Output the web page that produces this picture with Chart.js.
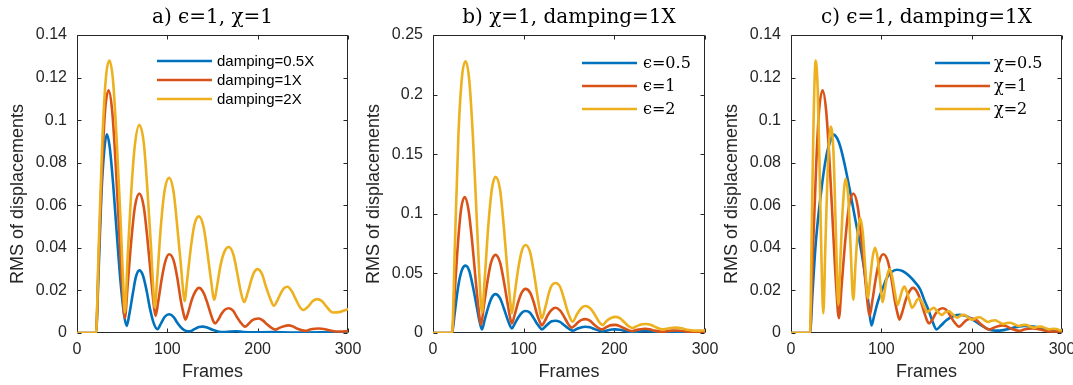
<!DOCTYPE html>
<html><head><meta charset="utf-8">
<script src="https://cdn.jsdelivr.net/npm/chart.js@4.4.1/dist/chart.umd.min.js"></script>
<style>
html,body{margin:0;padding:0;background:#fff;}
#wrap{position:relative;width:1073px;height:385px;overflow:hidden;background:#fff;}
canvas{position:absolute;top:0;}
</style></head><body>
<div id="wrap">
<canvas id="ca" width="380" height="385" style="left:0px;width:380px;height:385px"></canvas>
<canvas id="cb" width="380" height="385" style="left:356px;width:380px;height:385px"></canvas>
<canvas id="cc" width="359" height="385" style="left:714px;width:359px;height:385px"></canvas>
</div>
<script>
// ---------- tick values / labels ----------
const xTicks = [0, 100, 200, 300];
const xTickLabels = ['0', '100', '200', '300'];
const yTicksAC = [0, 0.02, 0.04, 0.06, 0.08, 0.1, 0.12, 0.14];
const yTickLabelsAC = ['0', '0.02', '0.04', '0.06', '0.08', '0.1', '0.12', '0.14'];
const yTicksB = [0, 0.05, 0.1, 0.15, 0.2, 0.25];
const yTickLabelsB = ['0', '0.05', '0.1', '0.15', '0.2', '0.25'];

// ---------- series: epsilon=1, chi=1, damping=1X (shared by all panels) ----------
const redF = [0,21,24,28,31,35,39,43,47,50,53,56,60,64,69,74,78,82,85,87,90,94,98,102,107,111,115,118,120,123,127,131,135,140,144,148,151,153,156,160,164,168,173,177,181,186,190,194,197,201,206,210,215,220,224,229,234,239,244,253,258,263,268,273,278,287,293,300];
const redV = [0,0,0.035,0.08,0.104,0.114,0.104,0.078,0.045,0.022,0.007,0.022,0.043,0.059,0.0655,0.059,0.044,0.026,0.013,0.008,0.015,0.026,0.034,0.037,0.034,0.026,0.015,0.009,0.0063,0.0095,0.0155,0.0195,0.0212,0.019,0.0145,0.009,0.0055,0.0045,0.006,0.009,0.011,0.0116,0.0104,0.0075,0.005,0.003,0.0043,0.006,0.0066,0.0068,0.0058,0.0042,0.0025,0.0016,0.0024,0.0032,0.0036,0.0031,0.002,0.001,0.0016,0.002,0.0021,0.0019,0.0014,0.0007,0.0007,0.0008];

// ---------- panel a: damping=0.5X ----------
const blueAF = [0,21,24,27,30,33,36,40,44,48,52,55,58,62,65,69,73,77,81,85,89,93,97,102,107,111,116,121,125,130,135,139,144,150,156,162,170,176,184,195,215,240,270,300];
const blueAV = [0,0,0.03,0.065,0.085,0.0934,0.088,0.07,0.047,0.025,0.009,0.0033,0.009,0.019,0.026,0.0294,0.027,0.02,0.011,0.0045,0.0018,0.0045,0.0075,0.0088,0.0075,0.0048,0.0022,0.0009,0.0008,0.0018,0.0028,0.003,0.0026,0.0015,0.0007,0.0004,0.0007,0.0008,0.0005,0.0003,0.0004,0.0002,0.0003,0.0002];
// ---------- panel a: damping=2X ----------
const yelAF = [0,21,24,28,32,36,40,44,48,51,53,56,60,64,69,74,78,82,84,86,89,93,97,102,107,111,115,117,119,122,126,130,135,140,144,148,152,155,159,163,168,173,177,181,185,189,193,196,200,205,209,214,218,222,226,229,233,238,242,247,251,256,261,266,271,276,280,284,290,295,300];
const yelAV = [0,0,0.04,0.09,0.12,0.128,0.118,0.09,0.055,0.025,0.0095,0.035,0.066,0.088,0.0977,0.089,0.067,0.04,0.024,0.012,0.027,0.051,0.067,0.0729,0.066,0.05,0.032,0.022,0.015,0.025,0.04,0.051,0.0548,0.05,0.039,0.026,0.0156,0.022,0.032,0.038,0.0404,0.037,0.029,0.02,0.0145,0.019,0.025,0.0285,0.03,0.0275,0.022,0.016,0.0128,0.0155,0.019,0.021,0.0217,0.0195,0.016,0.012,0.0108,0.0125,0.015,0.0159,0.015,0.0125,0.0105,0.0096,0.0098,0.0105,0.0112];

// ---------- panel b: epsilon=0.5 ----------
const blueBF = [0,21,24,28,32,36,40,44,48,51,54,57,61,65,69,74,78,82,85,87,90,94,98,102,107,111,115,118,120,124,128,131,135,140,144,149,154,159,164,168,173,178,187,193,197,201,206,212,220,227,235,243,253,260,268,276,287,300];
const blueBV = [0,0,0.017,0.04,0.053,0.0565,0.052,0.039,0.023,0.011,0.003,0.011,0.022,0.03,0.0326,0.029,0.021,0.012,0.006,0.0038,0.0075,0.013,0.017,0.0185,0.017,0.0125,0.0075,0.0045,0.003,0.0055,0.0083,0.0098,0.0103,0.0093,0.007,0.004,0.002,0.0035,0.0049,0.0053,0.0048,0.0034,0.0013,0.0023,0.0029,0.003,0.0027,0.0018,0.0008,0.0013,0.0017,0.0012,0.0005,0.0008,0.001,0.0008,0.0004,0.0004];
// ---------- panel b: epsilon=2 ----------
const yelBF = [0,21,24,28,32,36,40,44,48,51,54,57,61,65,69,74,78,82,85,87,90,94,98,102,107,111,115,118,120,124,128,131,135,140,144,149,154,159,164,168,173,178,183,187,192,197,201,206,211,216,220,226,231,235,240,246,253,259,264,268,274,280,287,293,300];
const yelBV = [0,0,0.07,0.165,0.215,0.228,0.212,0.165,0.1,0.05,0.017,0.045,0.09,0.121,0.131,0.12,0.09,0.053,0.028,0.0165,0.032,0.054,0.069,0.0738,0.068,0.052,0.032,0.018,0.0123,0.022,0.034,0.04,0.042,0.039,0.03,0.017,0.0095,0.016,0.0212,0.0226,0.021,0.016,0.0095,0.0067,0.0105,0.0128,0.0135,0.0125,0.009,0.0055,0.0042,0.0062,0.0073,0.0076,0.007,0.0048,0.003,0.0038,0.0044,0.0045,0.004,0.0028,0.002,0.002,0.0022];

// ---------- panel c: chi=0.5 ----------
const blueCF = [0,21,24,27,30,33,36,40,43,47,51,55,60,65,70,74,78,82,86,89,92,95,98,102,106,111,117,124,131,137,143,148,152,157,161,166,172,180,187,195,203,210,217,224,231,238,245,252,258,266,274,282,290,300];
const blueCV = [0,0,0.02,0.04,0.054,0.065,0.075,0.085,0.0895,0.0932,0.0915,0.087,0.078,0.0674,0.056,0.047,0.038,0.027,0.013,0.0035,0.008,0.013,0.0171,0.0215,0.0258,0.0285,0.0297,0.029,0.0268,0.024,0.0205,0.015,0.011,0.005,0.0017,0.0035,0.006,0.008,0.0086,0.0078,0.0058,0.0038,0.002,0.0012,0.0011,0.0016,0.0024,0.003,0.0033,0.0031,0.0026,0.0018,0.0012,0.0009];
// ---------- panel c: chi=2 ----------
const yelCF = [0,21,23,25,27.3,29.5,32,34,35.8,38,40.5,44,47,49.5,52.4,55,57.5,60.5,63.5,66,68.9,71.5,74,76.5,79.5,82,85,88,90.5,93,96,98.5,101.5,104.5,106.5,109,112,115,118,121,123,125.5,128.5,131,134,137,139.5,142,145,148,151,154,158,162,167,171,175,179,184,188,192,196,201,205,209,213,218,222,226,230,235,239,243,247,252,256,260,264,269,273,277,281,286,290,294,298,300];
const yelCV = [0,0,0.05,0.1,0.128,0.115,0.07,0.03,0.0093,0.04,0.075,0.097,0.085,0.05,0.0132,0.038,0.06,0.0725,0.063,0.04,0.0156,0.033,0.048,0.054,0.047,0.032,0.0164,0.027,0.036,0.04,0.035,0.025,0.0145,0.022,0.027,0.03,0.0265,0.019,0.0132,0.017,0.02,0.0218,0.019,0.0155,0.0118,0.0135,0.0155,0.0162,0.0145,0.0118,0.0098,0.0108,0.0118,0.0102,0.0085,0.0098,0.0102,0.0088,0.0072,0.0082,0.0085,0.0074,0.0062,0.0072,0.0074,0.0064,0.0052,0.0058,0.006,0.0052,0.0042,0.0047,0.0048,0.0041,0.0033,0.0037,0.0038,0.0032,0.0025,0.0029,0.003,0.0024,0.0017,0.002,0.0019,0.0012,0.0014];

// ---------- labels ----------
const labelsA = ['damping=0.5X', 'damping=1X', 'damping=2X'];
const labelsB = ['\u03F5=0.5', '\u03F5=1', '\u03F5=2'];
const labelsC = ['\u03C7=0.5', '\u03C7=1', '\u03C7=2'];
const titles = ['a) \u03F5=1, \u03C7=1', 'b) \u03C7=1, damping=1X', 'c) \u03F5=1, damping=1X'];
const xTitle = 'Frames';
const yTitle = 'RMS of displacements';

// ---------- styling ----------
const COL = ['#0072BD', '#D95319', '#EDB120'];
const SANS = '"Liberation Sans", Arial, Helvetica, sans-serif';
const SERIF = '"DejaVu Serif", "Liberation Serif", serif';
const AX = '#262626';

function pts(xs, ys) { return xs.map((x, i) => ({x: x, y: ys[i]})); }
function ds(label, xs, ys, k) {
  return {label, data: pts(xs, ys), borderColor: COL[k], backgroundColor: COL[k],
    borderWidth: 2.6, pointRadius: 0, cubicInterpolationMode: 'monotone', fill: false,
    order: 2 - k, borderJoinStyle: 'round', borderCapStyle: 'round'};
}

const matlab = {
  id: 'matlab',
  beforeDatasetsDraw(chart, args, o) {
    const {ctx, chartArea: a} = chart;
    const x = chart.scales.x, y = chart.scales.y;
    ctx.save();
    ctx.strokeStyle = AX; ctx.lineWidth = 1;
    const L = Math.round(a.left) + 0.5, R = Math.round(a.right) - 0.5;
    const T = Math.round(a.top) + 0.5, B = Math.round(a.bottom) - 0.5;
    ctx.beginPath();
    ctx.rect(L, T, R - L, B - T);
    x.ticks.forEach(t => {
      const p = Math.round(x.getPixelForValue(t.value)) + 0.5;
      ctx.moveTo(p, B); ctx.lineTo(p, B - 4);
      ctx.moveTo(p, T); ctx.lineTo(p, T + 4);
    });
    y.ticks.forEach(t => {
      const p = Math.round(y.getPixelForValue(t.value)) + 0.5;
      ctx.moveTo(L, p); ctx.lineTo(L + 4, p);
      ctx.moveTo(R, p); ctx.lineTo(R - 4, p);
    });
    ctx.stroke();
    // title
    ctx.fillStyle = '#000';
    ctx.font = '20px ' + SERIF;
    ctx.textAlign = 'center'; ctx.textBaseline = 'alphabetic';
    ctx.fillText(o.title, (a.left + a.right) / 2, 23);
    // y-axis title
    ctx.save();
    ctx.fillStyle = AX;
    ctx.font = '18px ' + SANS;
    ctx.translate(18, (a.top + a.bottom) / 2 + 10);
    ctx.rotate(-Math.PI / 2);
    ctx.textAlign = 'center'; ctx.textBaseline = 'middle';
    ctx.fillText(yTitle, 0, 0);
    ctx.restore();
    ctx.restore();
  },
  afterDatasetsDraw(chart, args, o) {
    const {ctx, chartArea: a} = chart;
    ctx.save();
    chart.data.datasets.forEach((d, i) => {
      const yy = a.top + o.legY + i * o.legDy;
      const x0 = a.left + o.legX;
      ctx.strokeStyle = d.borderColor; ctx.lineWidth = 2.6; ctx.lineCap = 'butt';
      ctx.beginPath(); ctx.moveTo(x0, yy); ctx.lineTo(x0 + 55, yy); ctx.stroke();
      ctx.fillStyle = '#000';
      ctx.font = o.legFont;
      ctx.textAlign = 'left'; ctx.textBaseline = 'middle';
      ctx.fillText(d.label, x0 + o.legTx, yy + 1);
    });
    ctx.restore();
  }
};

function makeChart(id, datasets, yMax, yTicks, yLabels, padRight, plug) {
  new Chart(document.getElementById(id), {
    type: 'line',
    data: {datasets},
    plugins: [matlab],
    options: {
      responsive: false, animation: false, devicePixelRatio: 1,
      layout: {padding: {top: 35, left: 0, right: padRight, bottom: 0}},
      plugins: {legend: {display: false}, tooltip: {enabled: false}, matlab: plug},
      scales: {
        x: {
          type: 'linear', min: 0, max: 300,
          afterBuildTicks: s => { s.ticks = xTicks.map(v => ({value: v})); },
          afterFit: s => { s.height = 52; s.paddingLeft = 0; s.paddingRight = 0; },
          grid: {display: false, drawTicks: false}, border: {display: false},
          ticks: {padding: 7, color: AX, font: {family: SANS, size: 16}, autoSkip: false, maxRotation: 0,
            callback: (v, i) => xTickLabels[i]},
          title: {display: true, text: xTitle, color: AX, font: {family: SANS, size: 18}, padding: {top: 0, bottom: 2}}
        },
        y: {
          type: 'linear', min: 0, max: yMax,
          afterBuildTicks: s => { s.ticks = yTicks.map(v => ({value: v})); },
          afterFit: s => { s.width = 77; s.paddingTop = 0; s.paddingBottom = 0; },
          grid: {display: false, drawTicks: false}, border: {display: false},
          ticks: {padding: 10, color: AX, font: {family: SANS, size: 16}, autoSkip: false,
            callback: (v, i) => yLabels[i]}
        }
      }
    }
  });
}

makeChart('ca', [
  ds(labelsA[0], blueAF, blueAV, 0),
  ds(labelsA[1], redF, redV, 1),
  ds(labelsA[2], yelAF, yelAV, 2)
], 0.14, yTicksAC, yTickLabelsAC, 32,
  {title: titles[0], legX: 80, legY: 26, legDy: 19, legTx: 60, legFont: '15px ' + SANS});

makeChart('cb', [
  ds(labelsB[0], blueBF, blueBV, 0),
  ds(labelsB[1], redF, redV, 1),
  ds(labelsB[2], yelBF, yelBV, 2)
], 0.25, yTicksB, yTickLabelsB, 31,
  {title: titles[1], legX: 149, legY: 28, legDy: 23, legTx: 61, legFont: '16px ' + SERIF});

makeChart('cc', [
  ds(labelsC[0], blueCF, blueCV, 0),
  ds(labelsC[1], redF, redV, 1),
  ds(labelsC[2], yelCF, yelCV, 2)
], 0.14, yTicksAC, yTickLabelsAC, 11,
  {title: titles[2], legX: 144, legY: 28, legDy: 23, legTx: 59, legFont: '16px ' + SERIF});
</script>
</body></html>
